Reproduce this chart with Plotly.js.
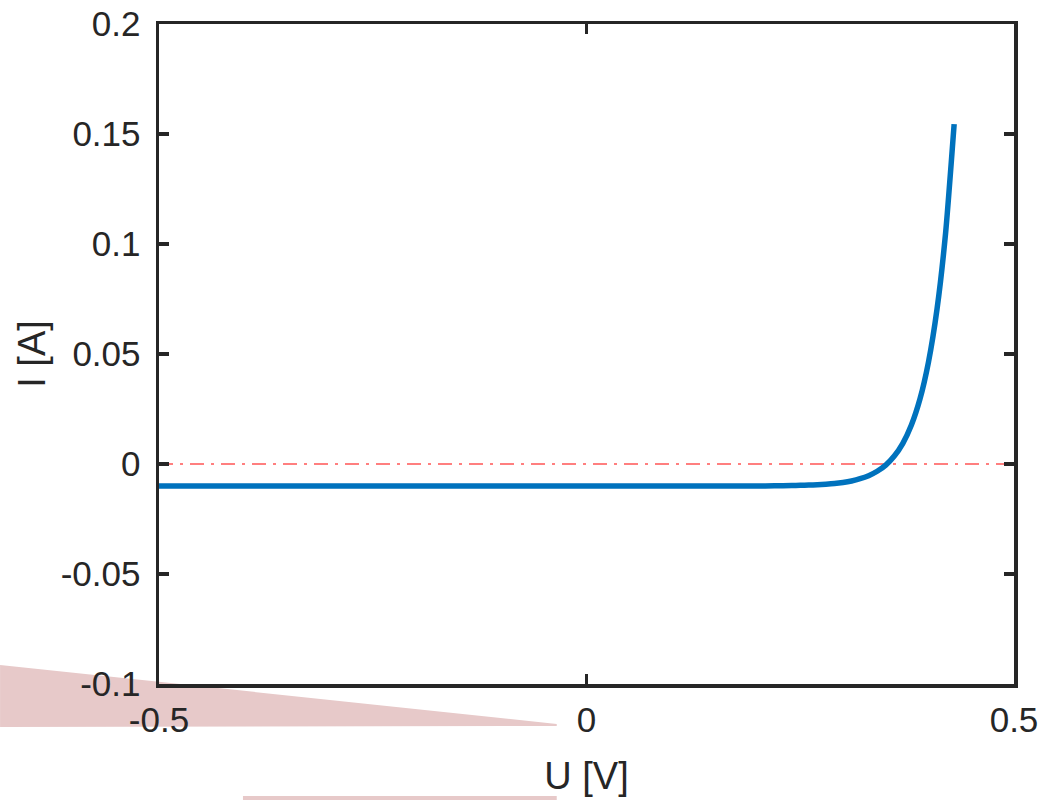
<!DOCTYPE html>
<html>
<head>
<meta charset="utf-8">
<script src="https://cdn.plot.ly/plotly-3.0.1.min.js"></script>
<style>html,body{margin:0;padding:0;background:#fff;}#chart{width:1043px;height:800px;}</style>
</head>
<body>
<div id="chart"></div>
<script>
// Voltage [V]
var voltage = [-0.5, -0.4, -0.3, -0.2, -0.1, 0, 0.1, 0.2, 0.22, 0.24, 0.25, 0.26, 0.27, 0.28, 0.29, 0.30,
               0.31, 0.32, 0.33, 0.34, 0.35, 0.36, 0.37, 0.38, 0.39, 0.40, 0.41, 0.42, 0.43];
// Current [A]
var current = [-0.0100, -0.0100, -0.0100, -0.0100, -0.0100, -0.0100, -0.0100, -0.0100, -0.0099, -0.0098,
               -0.0097, -0.0096, -0.0094, -0.0092, -0.0089, -0.0084, -0.0077, -0.0067, -0.0053, -0.0033,
               -0.0005, 0.0036, 0.0094, 0.0177, 0.0295, 0.0464, 0.0705, 0.1050, 0.1545];
// Zero reference line
var refX = [-0.5, 0.5];
var refY = [0, 0];
// Tick labels
var xTickVals = [-0.5, 0, 0.5];
var xTickText = ['-0.5', '0', '0.5'];
var yTickVals = [-0.1, -0.05, 0, 0.05, 0.1, 0.15, 0.2];
var yTickText = ['-0.1', '-0.05', '0', '0.05', '0.1', '0.15', '0.2'];

var axisColor = '#262626';
var fontFam = '"Liberation Sans", Arial, Helvetica, sans-serif';

var traces = [
  {x: refX, y: refY, mode: 'lines', type: 'scatter',
   line: {color: 'rgba(255,0,0,0.5)', width: 2, dash: '14px,7px,3px,7px'}, hoverinfo: 'skip'},
  {x: voltage, y: current, mode: 'lines', type: 'scatter',
   line: {color: '#0072BD', width: 5.5, shape: 'spline', smoothing: 0.6}}
];

var axisCommon = {
  showline: true, linecolor: axisColor, linewidth: 3.5, mirror: 'ticks',
  ticks: 'inside', ticklen: 10, tickwidth: 3.5, tickcolor: axisColor,
  showgrid: false, zeroline: false, tickmode: 'array',
  tickfont: {family: fontFam, size: 35, color: axisColor}
};

var layout = {
  width: 1043, height: 800,
  margin: {l: 159, r: 28.5, t: 24, b: 116, pad: 0},
  paper_bgcolor: '#ffffff', plot_bgcolor: '#ffffff',
  showlegend: false,
  xaxis: Object.assign({}, axisCommon, {
    range: [-0.5, 0.5], tickvals: xTickVals, ticktext: xTickText, ticklabelstandoff: 2,
    title: {text: 'U [V]', font: {family: fontFam, size: 38, color: axisColor}, standoff: 26}
  }),
  yaxis: Object.assign({}, axisCommon, {
    range: [-0.1, 0.2], tickvals: yTickVals, ticktext: yTickText, ticklabelstandoff: 8,
    title: {text: 'I [A]', font: {family: fontFam, size: 38, color: axisColor}, standoff: 4}
  }),
  shapes: [
    {type: 'path', xref: 'paper', yref: 'paper', layer: 'below',
     path: 'M -0.1859 0.0288 L 0.4652 -0.0606 L 0.4652 -0.0636 L -0.1859 -0.0652 Z',
     fillcolor: 'rgb(231,201,201)', line: {width: 0}},
    {type: 'rect', xref: 'paper', yref: 'paper', layer: 'below',
     x0: 0.0982, x1: 0.4652, y0: -0.1758, y1: -0.1697,
     fillcolor: 'rgb(231,201,201)', line: {width: 0}}
  ]
};

Plotly.newPlot('chart', traces, layout, {displayModeBar: false, staticPlot: true});
</script>
</body>
</html>
